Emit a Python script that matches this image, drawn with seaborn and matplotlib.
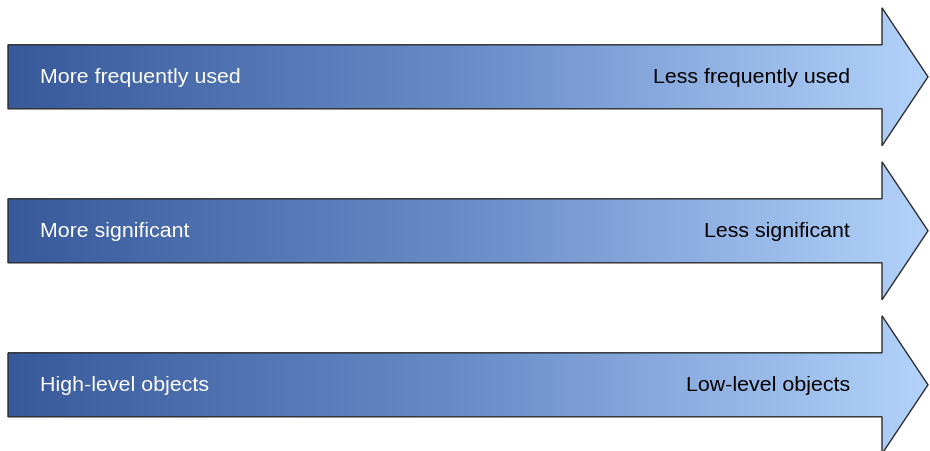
import numpy as np
import matplotlib
matplotlib.use("Agg")
import matplotlib.pyplot as plt
import seaborn as sns
from matplotlib.patches import Polygon
from matplotlib.colors import LinearSegmentedColormap

sns.set_style("white")
plt.rcParams['font.family'] = ['Liberation Sans', 'DejaVu Sans']

# labels for each arrow (top to bottom)
left_labels = ["More frequently used", "More significant", "High-level objects"]
right_labels = ["Less frequently used", "Less significant", "Low-level objects"]

# arrow centre lines (pixel rows) and shape
centers = [77.8, 231.8, 385.8]
shaft_x0, head_x0, tip_x = 8, 882, 928
shaft_half, head_half = 32, 69

cmap = LinearSegmentedColormap.from_list("arr", ["#385a9b", "#6a8cc8", "#b3d3fb"])

fig = plt.figure(figsize=(9.3, 4.52), dpi=100)
ax = fig.add_axes([0, 0, 1, 1])
ax.set_xlim(0, 930)
ax.set_ylim(452, 0)
ax.axis("off")

grad = np.linspace(0, 1, 256).reshape(1, -1)

for cy, lt, rt in zip(centers, left_labels, right_labels):
    pts = [(shaft_x0, cy - shaft_half), (head_x0, cy - shaft_half),
           (head_x0, cy - head_half), (tip_x, cy), (head_x0, cy + head_half),
           (head_x0, cy + shaft_half), (shaft_x0, cy + shaft_half)]
    poly = Polygon(pts, closed=True, facecolor="none", edgecolor="#2b2b2b", lw=1.0, zorder=3)
    ax.add_patch(poly)
    im = ax.imshow(grad, cmap=cmap, aspect="auto",
                   extent=(shaft_x0, tip_x, cy + head_half, cy - head_half), zorder=2)
    im.set_clip_path(poly)
    ax.text(40, cy, lt, color="white", fontsize=15.4, va="center", ha="left", zorder=4)
    ax.text(850, cy, rt, color="black", fontsize=15.4, va="center", ha="right", zorder=4)

ax.set_xlim(0, 930)
ax.set_ylim(452, 0)
fig.savefig("out.png", dpi=100)
